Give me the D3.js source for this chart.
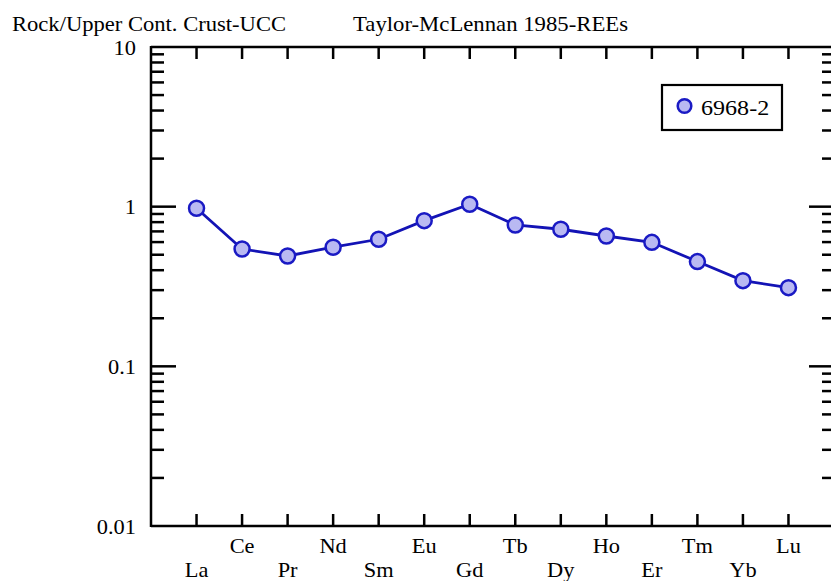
<!DOCTYPE html>
<html>
<head>
<meta charset="utf-8">
<script src="https://cdn.jsdelivr.net/npm/d3@7"></script>
<style>
  html, body { margin: 0; padding: 0; background: #fff; }
  svg { display: block; }
  text { font-family: "Liberation Serif", "Times New Roman", serif; fill: #000; }
</style>
</head>
<body>
<svg id="chart" width="831" height="581"></svg>
<script>
// Rare earth elements, in order of atomic number
const elements = ["La","Ce","Pr","Nd","Sm","Eu","Gd","Tb","Dy","Ho","Er","Tm","Yb","Lu"];
// Sample 6968-2 normalised to upper continental crust (Taylor & McLennan 1985)
const sampleName = "6968-2";
const sampleValues = [0.977, 0.543, 0.491, 0.557, 0.625, 0.817, 1.035, 0.768, 0.722, 0.655, 0.598, 0.453, 0.344, 0.311];
// Labelled decades of the log axis
const yTickLabels = [10, 1, 0.1, 0.01];
const leftTitle = "Rock/Upper Cont. Crust-UCC";
const rightTitle = "Taylor-McLennan 1985-REEs";

const svg = d3.select("#chart");

const x = d3.scaleLinear().domain([-1, elements.length]).range([151, 834]);
const y = d3.scaleLog().domain([0.01, 10]).range([526, 47]);

// The serif labels are drawn slightly wide
const STRETCH = 1.12;
function label(parent, tx, ty, str, size, anchor) {
  return parent.append("text")
    .attr("transform", `translate(${tx},${ty}) scale(${STRETCH},1)`)
    .attr("font-size", size)
    .attr("text-anchor", anchor || "start")
    .text(str);
}

const axisColor = "#000";
const axisWidth = 2.5;

// Frame: left, top, bottom and right edges
const frame = svg.append("g").attr("stroke", axisColor).attr("stroke-width", axisWidth).attr("fill", "none");
frame.append("line").attr("x1", x(-1)).attr("x2", x(-1)).attr("y1", y(10) - 1).attr("y2", y(0.01) + 1);
frame.append("line").attr("x1", x(-1)).attr("x2", x(elements.length)).attr("y1", y(10)).attr("y2", y(10));
frame.append("line").attr("x1", x(-1)).attr("x2", x(elements.length)).attr("y1", y(0.01)).attr("y2", y(0.01));
frame.append("line").attr("x1", x(elements.length)).attr("x2", x(elements.length)).attr("y1", y(10)).attr("y2", y(0.01));

// Log ticks on left and right edges: long at decades, short in between
const isDecade = v => Math.abs(Math.log10(v) - Math.round(Math.log10(v))) < 1e-9;
const logTicks = y.ticks().filter(v => v > 0.01 && v < 10);
const tickG = svg.append("g").attr("stroke", axisColor).attr("stroke-width", axisWidth);
tickG.selectAll("line.left").data(logTicks).join("line")
  .attr("class", "left")
  .attr("x1", x(-1)).attr("x2", v => x(-1) + (isDecade(v) ? 25 : 13))
  .attr("y1", v => y(v)).attr("y2", v => y(v));
tickG.selectAll("line.right").data(logTicks).join("line")
  .attr("class", "right")
  .attr("x1", x(elements.length)).attr("x2", v => x(elements.length) - (isDecade(v) ? 25 : 12))
  .attr("y1", v => y(v)).attr("y2", v => y(v));

// Element ticks on top and bottom edges
tickG.selectAll("line.top").data(elements).join("line")
  .attr("class", "top")
  .attr("x1", (d, i) => x(i)).attr("x2", (d, i) => x(i))
  .attr("y1", y(10)).attr("y2", y(10) + 12);
tickG.selectAll("line.bottom").data(elements).join("line")
  .attr("class", "bottom")
  .attr("x1", (d, i) => x(i)).attr("x2", (d, i) => x(i))
  .attr("y1", y(0.01)).attr("y2", y(0.01) - 12);

// Y tick labels
const yLab = svg.append("g");
yTickLabels.forEach(v => label(yLab, 136, y(v) + 7.5, String(v), 20, "end"));

// Element labels, staggered on two rows
const xLab = svg.append("g");
elements.forEach((d, i) => label(xLab, x(i), i % 2 === 0 ? 577 : 553, d, 20, "middle"));

// Titles
svg.append("text").attr("x", 12).attr("y", 30.5).attr("font-size", 21)
  .attr("textLength", 274).attr("lengthAdjust", "spacingAndGlyphs").text(leftTitle);
svg.append("text").attr("x", 353).attr("y", 30.5).attr("font-size", 21)
  .attr("textLength", 275).attr("lengthAdjust", "spacingAndGlyphs").text(rightTitle);

// Sample pattern
const lineColor = "#1313b5";
const markerFill = "#b9b9f2";
const markerStroke = "#1a1ac4";
const pts = sampleValues.map((v, i) => ({ i, v }));
svg.append("path")
  .datum(pts)
  .attr("fill", "none")
  .attr("stroke", lineColor)
  .attr("stroke-width", 2.8)
  .attr("d", d3.line().x(d => x(d.i)).y(d => y(d.v)));
svg.append("g").selectAll("circle").data(pts).join("circle")
  .attr("cx", d => x(d.i)).attr("cy", d => y(d.v))
  .attr("r", 7.5)
  .attr("fill", markerFill)
  .attr("stroke", markerStroke)
  .attr("stroke-width", 2.5);

// Legend
const legend = svg.append("g");
legend.append("rect")
  .attr("x", 662).attr("y", 85).attr("width", 120).attr("height", 45)
  .attr("fill", "#fff").attr("stroke", "#000").attr("stroke-width", 2.2);
legend.append("circle")
  .attr("cx", 684.5).attr("cy", 106).attr("r", 6.8)
  .attr("fill", markerFill).attr("stroke", markerStroke).attr("stroke-width", 2.5);
label(legend, 701, 115, sampleName, 21.5, "start");
</script>
</body>
</html>
